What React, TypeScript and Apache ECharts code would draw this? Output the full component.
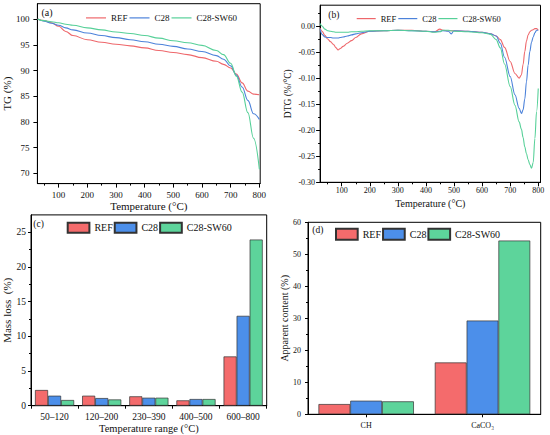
import React, { useEffect, useRef } from "react";
import * as echarts from "echarts";

const FONT = '"Liberation Serif", "Times New Roman", serif';

// ---------- (a) TG curves ----------
const tgTemp = [27, 50, 75, 100, 125, 150, 200, 250, 300, 350, 400, 450, 500, 550, 600, 650, 675, 700, 720, 740, 760, 780, 800];
const tgREF = [100, 99.7, 99.3, 98.6, 97.6, 96.8, 96.0, 95.5, 95.1, 94.8, 94.4, 93.9, 93.5, 93.1, 92.5, 91.8, 91.2, 90.5, 89.3, 87.6, 86.0, 85.4, 85.3];
const tgC28 = [100, 99.6, 99.2, 98.8, 98.3, 97.9, 97.3, 96.8, 96.4, 96.0, 95.6, 95.1, 94.7, 94.2, 93.7, 92.9, 92.2, 90.9, 89.1, 86.8, 84.2, 81.6, 80.5];
const tgSW60 = [100, 99.7, 99.5, 99.3, 99.0, 98.8, 98.3, 97.9, 97.5, 97.2, 96.8, 96.3, 95.8, 95.4, 94.9, 93.9, 93.1, 91.4, 88.9, 85.8, 81.8, 76.8, 70.8];
const tgXTicks = [100, 200, 300, 400, 500, 600, 700, 800];
const tgXMinor = [50, 150, 250, 350, 450, 550, 650, 750];
const tgYTicks = [70, 75, 80, 85, 90, 95, 100];

// ---------- (b) DTG curves ----------
const dtgTemp = [23, 30, 40, 50, 60, 70, 80, 87, 95, 105, 120, 135, 150, 170, 200, 250, 300, 350, 400, 430, 450, 460, 480, 490, 500, 550, 600, 630, 650, 665, 680, 700, 717, 732, 740, 746, 752, 758, 764, 770, 776, 782, 788, 794, 800];
const dtgREF = [-0.004, -0.010, -0.018, -0.025, -0.030, -0.035, -0.042, -0.046, -0.043, -0.039, -0.033, -0.028, -0.022, -0.015, -0.010, -0.009, -0.008, -0.008, -0.010, -0.011, -0.006, -0.008, -0.009, -0.009, -0.009, -0.010, -0.012, -0.015, -0.019, -0.026, -0.041, -0.068, -0.091, -0.100, -0.094, -0.074, -0.049, -0.029, -0.017, -0.011, -0.008, -0.007, -0.005, -0.005, -0.008];
const dtgC28 = [-0.006, -0.016, -0.021, -0.022, -0.022, -0.023, -0.023, -0.023, -0.022, -0.021, -0.019, -0.017, -0.015, -0.013, -0.010, -0.009, -0.008, -0.009, -0.010, -0.011, -0.010, -0.009, -0.010, -0.015, -0.009, -0.010, -0.012, -0.015, -0.019, -0.033, -0.060, -0.097, -0.132, -0.158, -0.168, -0.161, -0.140, -0.107, -0.075, -0.049, -0.031, -0.021, -0.013, -0.008, -0.008];
const dtgSW60 = [0.005, 0.000, -0.006, -0.009, -0.010, -0.011, -0.012, -0.012, -0.012, -0.012, -0.012, -0.011, -0.011, -0.010, -0.009, -0.009, -0.008, -0.009, -0.010, -0.012, -0.011, -0.008, -0.008, -0.009, -0.010, -0.011, -0.013, -0.016, -0.026, -0.042, -0.073, -0.116, -0.152, -0.184, -0.198, -0.214, -0.232, -0.245, -0.257, -0.266, -0.273, -0.262, -0.216, -0.164, -0.120];
const dtgYTicks = [-0.3, -0.25, -0.2, -0.15, -0.1, -0.05, 0];
const dtgYMinor = [-0.275, -0.225, -0.175, -0.125, -0.075, -0.025, 0.025];

// ---------- (c) mass loss ----------
const massRanges = ["50–120", "120–200", "230–390", "400–500", "600–800"];
const massREF = [2.26, 1.44, 1.35, 0.77, 7.1];
const massC28 = [1.44, 1.1, 1.15, 0.96, 12.95];
const massSW60 = [0.82, 0.9, 1.15, 0.96, 23.95];
const massYTicks = [0, 5, 10, 15, 20, 25];

// ---------- (d) apparent content ----------
const contentCats = ["CH", "CaCO₃"];
const contentREF = [3.2, 16.2];
const contentC28 = [4.25, 29.3];
const contentSW60 = [4.05, 54.3];
const contentYTicks = [0, 10, 20, 30, 40, 50, 60];

const seriesNames = ["REF", "C28", "C28-SW60"];
const lineColors = ["#EE676B", "#4C82DA", "#56D098"];
const barColors = ["#F46B6C", "#4C8FEA", "#5DD49B"];

const pairs = (xs: number[], ys: number[]) => xs.map((x, i) => [x, ys[i]]);

const black = "#000";

function gridBox(left: number, top: number, width: number, height: number) {
  return { left, top, width, height, show: true, borderColor: black, borderWidth: 1, backgroundColor: "transparent", containLabel: false };
}

function valueAxis(opts: any) {
  const {
    min, max, ticks, minor, fontSize, margin, name, nameGap, nameSize, position, formatter, tickLen = 4,
  } = opts;
  const main: any = {
    type: "value",
    position,
    min,
    max,
    axisLine: { show: true, onZero: false, lineStyle: { color: black, width: 1 } },
    axisTick: { show: true, inside: false, length: tickLen, customValues: ticks, lineStyle: { color: black, width: 1 } },
    axisLabel: {
      show: true,
      customValues: ticks,
      fontFamily: FONT,
      fontSize,
      color: "#111",
      margin,
      formatter: formatter || ((v: number) => String(v)),
    },
    splitLine: { show: false },
    name,
    nameLocation: "middle",
    nameGap,
    nameTextStyle: { fontFamily: FONT, fontSize: nameSize, color: "#111" },
  };
  const axes = [main];
  if (minor) {
    axes.push({
      type: "value",
      position,
      min,
      max,
      axisLine: { show: false, onZero: false },
      axisTick: { show: true, inside: false, length: 2, customValues: minor, lineStyle: { color: black, width: 1 } },
      axisLabel: { show: false },
      splitLine: { show: false },
    });
  }
  return axes;
}

function panelLabel(text: string, left: number, top: number, size: number) {
  return {
    type: "text",
    left,
    top,
    style: { text, fontFamily: FONT, fontSize: size, fill: "#111" },
  };
}

function lineLegend(left: number, centerY: number, width: number, fontSize: number) {
  return {
    left,
    top: centerY - 0.6,
    padding: 0,
    icon: "rect",
    itemWidth: width,
    itemHeight: 1.2,
    itemGap: 2,
    data: seriesNames,
    textStyle: { fontFamily: FONT, fontSize, color: "#111" },
  };
}

// ---------- options ----------
const optionA: any = {
  animation: false,
  grid: gridBox(37.1, 3.7, 223.1, 179.9),
  xAxis: valueAxis({
    min: 26, max: 803, ticks: tgXTicks, minor: tgXMinor, fontSize: 9, margin: 7,
    name: "Temperature (°C)", nameGap: 17, nameSize: 11, position: "bottom",
  }),
  yAxis: valueAxis({
    min: 68, max: 103, ticks: tgYTicks, fontSize: 9, margin: 8,
    name: "TG (%)", nameGap: 21, nameSize: 11, position: "left",
  }),
  legend: lineLegend(86, 14, 20, 9),
  series: [tgREF, tgC28, tgSW60].map((d, i) => ({
    name: seriesNames[i],
    type: "line",
    data: pairs(tgTemp, d),
    symbol: "none",
    smooth: 0.4,
    smoothMonotone: "x",
    lineStyle: { color: lineColors[i], width: 1.1 },
    itemStyle: { color: lineColors[i] },
  })),
  graphic: [panelLabel("(a)", 41.5, 7, 10)],
};

const optionB: any = {
  animation: false,
  grid: gridBox(320.1, 5.2, 220.4, 177.1),
  xAxis: valueAxis({
    min: 23, max: 808, ticks: tgXTicks, minor: tgXMinor, fontSize: 8, margin: 4,
    name: "Temperature (°C)", nameGap: 16, nameSize: 10, position: "bottom",
  }),
  yAxis: valueAxis({
    min: -0.3, max: 0.04, ticks: dtgYTicks, minor: dtgYMinor, fontSize: 8, margin: 5,
    name: "DTG (%/°C)", nameGap: 27, nameSize: 9.5, position: "left",
    formatter: (v: number) => v.toFixed(2),
  }),
  legend: lineLegend(356.7, 14.7, 19, 8.5),
  series: [dtgREF, dtgC28, dtgSW60].map((d, i) => ({
    name: seriesNames[i],
    type: "line",
    data: pairs(dtgTemp, d),
    symbol: "none",
    smooth: 0.35,
    smoothMonotone: "x",
    lineStyle: { color: lineColors[i], width: 1.1 },
    itemStyle: { color: lineColors[i] },
  })),
  graphic: [panelLabel("(b)", 328.3, 9.5, 9.5)],
};

function categoryAxis(data: string[], fontSize: number, margin: number, alignWithLabel: boolean, name?: string, nameGap?: number, nameSize?: number) {
  return {
    type: "category",
    data,
    position: "bottom",
    axisLine: { show: true, lineStyle: { color: black, width: 1 } },
    axisTick: { show: true, inside: false, length: 3, alignWithLabel, lineStyle: { color: black } },
    axisLabel: { fontFamily: FONT, fontSize, color: "#111", margin, interval: 0 },
    splitLine: { show: false },
    name,
    nameLocation: "middle",
    nameGap,
    nameTextStyle: { fontFamily: FONT, fontSize: nameSize, color: "#111" },
  };
}

const barSeries = (vals: number[][], cat: string) =>
  vals.map((d, i) => ({
    name: seriesNames[i],
    type: "bar",
    data: d,
    barGap: "0%",
    barCategoryGap: cat,
    itemStyle: { color: barColors[i], borderColor: "#333", borderWidth: 0.7 },
  }));

const optionC: any = {
  animation: false,
  grid: gridBox(30.7, 214.9, 236, 190.8),
  xAxis: categoryAxis(massRanges, 9.5, 6, false, "Temperature range (°C)", 14, 10.5),
  yAxis: valueAxis({
    min: 0, max: 27.5, ticks: massYTicks, minor: [2.5, 7.5, 12.5, 17.5, 22.5], fontSize: 9.5, margin: 5, tickLen: 3,
    name: "Mass loss  (%)", nameGap: 19, nameSize: 11, position: "left",
  }),
  legend: {
    left: 66.7, top: 221.7, padding: 0, itemWidth: 21.7, itemHeight: 10, itemGap: 1,
    icon: "rect",
    data: seriesNames,
    textStyle: { fontFamily: FONT, fontSize: 10, color: "#111" },
  },
  series: barSeries([massREF, massC28, massSW60], "17%"),
  graphic: [panelLabel("(c)", 33.3, 218.5, 9.5)],
};

const optionD: any = {
  animation: false,
  grid: gridBox(308, 222.3, 232.7, 192),
  xAxis: categoryAxis(contentCats, 8, 7, true),
  yAxis: valueAxis({
    min: 0, max: 60, ticks: contentYTicks, minor: [5, 15, 25, 35, 45, 55], fontSize: 8, margin: 7, tickLen: 3,
    name: "Apparent content (%)", nameGap: 16, nameSize: 10, position: "left",
  }),
  legend: {
    left: 335, top: 227.8, padding: 0, itemWidth: 21.7, itemHeight: 11, itemGap: 1,
    icon: "rect",
    data: seriesNames,
    textStyle: { fontFamily: FONT, fontSize: 10, color: "#111" },
  },
  series: barSeries([contentREF, contentC28, contentSW60], "18%"),
  graphic: [panelLabel("(d)", 312.3, 225, 9.5)],
};

function Panel({ option }: { option: any }) {
  const ref = useRef<HTMLDivElement>(null);
  useEffect(() => {
    if (!ref.current) return;
    const chart = echarts.init(ref.current, null, { renderer: "svg" });
    chart.setOption(option);
    return () => chart.dispose();
  }, [option]);
  return (
    <div
      ref={ref}
      style={{ position: "absolute", left: 0, top: 0, width: 550, height: 435 }}
    />
  );
}

export default function App() {
  return (
    <div
      style={{
        position: "fixed",
        left: 0,
        top: 0,
        width: 550,
        height: 435,
        background: "#fff",
        overflow: "hidden",
      }}
    >
      <Panel option={optionA} />
      <Panel option={optionB} />
      <Panel option={optionC} />
      <Panel option={optionD} />
    </div>
  );
}
